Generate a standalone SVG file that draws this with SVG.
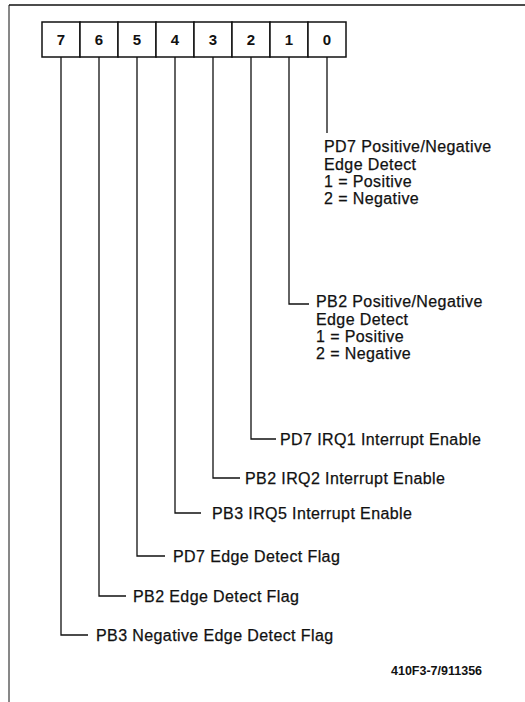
<svg xmlns="http://www.w3.org/2000/svg" width="525" height="702" viewBox="0 0 525 702">
<style>
.frame{fill:none;stroke:#111;}
.box{fill:#fff;stroke:#111;stroke-width:1.5;}
.digit{font-family:"Liberation Sans",Arial,sans-serif;font-weight:bold;font-size:15px;text-anchor:middle;fill:#111;}
.lbl{font-family:"Liberation Sans",Arial,sans-serif;font-size:16px;letter-spacing:0.4px;fill:#111;stroke:#111;stroke-width:0.25;}
.conn{fill:none;stroke:#111;stroke-width:1.3;}
.foot{font-family:"Liberation Sans",Arial,sans-serif;font-weight:bold;font-size:12.5px;fill:#111;}
</style>
<rect width="525" height="702" fill="#fff"/>
<g id="frame">
<line class="frame" x1="9" y1="5" x2="525" y2="5" stroke-width="1.6"/>
<line class="frame" x1="9" y1="5" x2="9" y2="702" stroke-width="1"/>
</g>
<g id="register">
<g id="bit7"><rect class="box" x="42" y="22" width="38" height="35"/><text class="digit" x="61" y="45">7</text></g>
<g id="bit6"><rect class="box" x="80" y="22" width="38" height="35"/><text class="digit" x="99" y="45">6</text></g>
<g id="bit5"><rect class="box" x="118" y="22" width="38" height="35"/><text class="digit" x="137" y="45">5</text></g>
<g id="bit4"><rect class="box" x="156" y="22" width="38" height="35"/><text class="digit" x="175" y="45">4</text></g>
<g id="bit3"><rect class="box" x="194" y="22" width="38" height="35"/><text class="digit" x="213" y="45">3</text></g>
<g id="bit2"><rect class="box" x="232" y="22" width="38" height="35"/><text class="digit" x="251" y="45">2</text></g>
<g id="bit1"><rect class="box" x="270" y="22" width="38" height="35"/><text class="digit" x="289" y="45">1</text></g>
<g id="bit0"><rect class="box" x="308" y="22" width="38" height="35"/><text class="digit" x="327" y="45">0</text></g>
</g>
<g id="connectors">
<polyline class="conn" points="327,57 327,133"/>
<polyline class="conn" points="289,57 289,304 309,304"/>
<polyline class="conn" points="251,57 251,439 276,439"/>
<polyline class="conn" points="213,57 213,478 240,478"/>
<polyline class="conn" points="175,57 175,513 201,513"/>
<polyline class="conn" points="137,57 137,556 165,556"/>
<polyline class="conn" points="99,57 99,596 126,596"/>
<polyline class="conn" points="61,57 61,635 88,635"/>
</g>
<g id="label0">
<text class="lbl" x="324" y="152">PD7 Positive/Negative</text>
<text class="lbl" x="324" y="170">Edge Detect</text>
<text class="lbl" x="324" y="187">1 = Positive</text>
<text class="lbl" x="324" y="204">2 = Negative</text>
</g>
<g id="label1">
<text class="lbl" x="316" y="307">PB2 Positive/Negative</text>
<text class="lbl" x="316" y="325">Edge Detect</text>
<text class="lbl" x="316" y="342">1 = Positive</text>
<text class="lbl" x="316" y="359">2 = Negative</text>
</g>
<g id="label2"><text class="lbl" x="280" y="445">PD7 IRQ1 Interrupt Enable</text></g>
<g id="label3"><text class="lbl" x="245" y="484">PB2 IRQ2 Interrupt Enable</text></g>
<g id="label4"><text class="lbl" x="212" y="519">PB3 IRQ5 Interrupt Enable</text></g>
<g id="label5"><text class="lbl" x="173" y="562">PD7 Edge Detect Flag</text></g>
<g id="label6"><text class="lbl" x="133" y="602">PB2 Edge Detect Flag</text></g>
<g id="label7"><text class="lbl" x="96" y="641">PB3 Negative Edge Detect Flag</text></g>
<g id="footer"><text class="foot" x="391" y="675">410F3-7/911356</text></g>
</svg>
